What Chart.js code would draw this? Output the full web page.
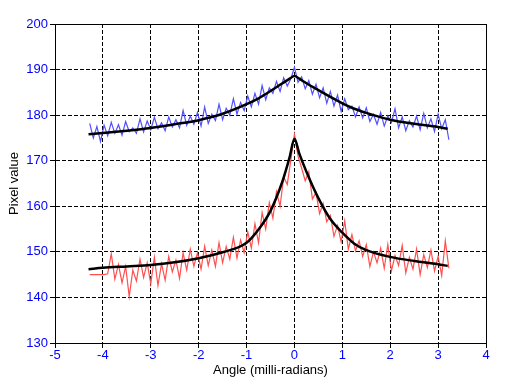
<!DOCTYPE html>
<html>
<head>
<meta charset="utf-8">
<script src="https://cdn.jsdelivr.net/npm/chart.js@4/dist/chart.umd.min.js"></script>
<style>
html,body{margin:0;padding:0;background:#fff;}
#wrap{width:510px;height:382px;position:relative;}
</style>
</head>
<body>
<div id="wrap"><canvas id="c" width="510" height="382"></canvas></div>
<script>
// ---- data ----
const xTicks = [-5,-4,-3,-2,-1,0,1,2,3,4];
const yTicks = [130,140,150,160,170,180,190,200];

const angle = [-4.275,-4.2,-4.125,-4.05,-3.975,-3.9,-3.825,-3.75,-3.675,-3.6,-3.525,-3.45,-3.375,-3.3,-3.225,-3.15,-3.075,-3.0,-2.925,-2.85,-2.775,-2.7,-2.625,-2.55,-2.475,-2.4,-2.325,-2.25,-2.175,-2.1,-2.025,-1.95,-1.875,-1.8,-1.725,-1.65,-1.575,-1.5,-1.425,-1.35,-1.275,-1.2,-1.125,-1.05,-0.975,-0.9,-0.825,-0.75,-0.675,-0.6,-0.525,-0.45,-0.375,-0.3,-0.225,-0.15,-0.075,0,0.075,0.15,0.225,0.3,0.375,0.45,0.525,0.6,0.675,0.75,0.825,0.9,0.975,1.05,1.125,1.2,1.275,1.35,1.425,1.5,1.575,1.65,1.725,1.8,1.875,1.95,2.025,2.1,2.175,2.25,2.325,2.4,2.475,2.55,2.625,2.7,2.775,2.85,2.925,3.0,3.075,3.15,3.225];

const bluePixels = [178.2,175.0,177.5,174.2,177.8,175.5,178.4,176.0,177.9,175.6,178.6,176.4,177.2,176.0,179.2,176.3,178.7,176.8,179.5,177.0,178.3,176.6,179.6,177.4,179.0,177.2,181.0,177.8,179.8,178.0,180.6,177.6,181.8,178.2,180.2,178.8,182.4,179.0,181.5,180.0,183.6,180.2,182.8,181.0,184.2,181.8,184.8,182.4,186.5,183.4,186.0,184.8,187.4,185.2,188.2,186.4,188.0,190.5,187.2,188.4,185.8,187.6,184.6,186.8,183.8,186.0,182.6,185.2,182.0,184.4,180.8,183.6,181.2,182.0,179.6,181.8,179.4,181.6,178.6,180.2,178.0,180.6,177.6,179.8,178.4,181.4,177.2,179.6,176.6,178.8,177.4,179.8,176.8,180.4,177.2,179.2,176.4,180.2,177.0,179.0,174.6];

const redPixels = [145.0,145.0,145.0,145.0,145.0,145.2,149.6,144.0,147.2,143.2,146.8,140.2,146.0,143.6,148.4,144.4,147.6,143.0,148.8,142.6,147.4,143.8,149.0,145.6,148.2,144.2,149.8,146.0,150.6,146.8,149.8,146.2,151.2,147.0,150.4,146.8,152.0,147.6,151.2,148.4,153.2,148.6,152.6,149.8,154.4,150.8,156.2,152.0,158.6,155.0,160.8,157.4,163.2,160.0,166.4,164.8,170.2,175.8,171.0,168.4,165.6,167.6,161.6,163.0,158.4,160.6,156.6,158.0,153.4,155.8,152.2,156.8,150.6,153.8,150.2,152.4,149.0,151.6,146.8,150.0,147.6,150.8,146.4,151.6,145.8,149.2,147.0,151.4,145.4,148.8,146.2,150.6,145.0,149.4,146.6,150.4,145.8,149.0,144.8,152.4,146.4];

const fitAngle = [-4.3,-4,-3.5,-3,-2.5,-2,-1.5,-1,-0.75,-0.5,-0.25,-0.1,0,0.1,0.25,0.5,0.75,1,1.25,1.5,2,2.5,3,3.2];
const blueFit = [175.8,176.1,176.6,177.2,178.0,178.9,180.3,182.4,183.7,185.3,187.0,188.0,188.6,188.0,187.0,185.5,184.0,182.6,181.4,180.5,179.0,178.1,177.4,177.0];
const redFit = [146.2,146.5,146.8,147.1,147.7,148.6,149.9,152.0,154.9,159.0,165.5,170.8,174.8,171.6,167.6,161.8,157.2,154.2,151.8,150.4,148.9,148.0,147.3,146.9];

const pts = (xs, ys) => xs.map((x, i) => ({x: x, y: ys[i]}));

const frame = {
  id: 'frame',
  afterDatasetsDraw(chart) {
    const a = chart.chartArea, ctx = chart.ctx;
    ctx.save();
    ctx.strokeStyle = '#000';
    ctx.lineWidth = 1;
    ctx.strokeRect(Math.round(a.left) + 0.5, Math.round(a.top) + 0.5, Math.round(a.right - a.left), Math.round(a.bottom - a.top));
    ctx.restore();
  }
};

const font = {family: '"Liberation Sans", Arial, sans-serif', size: 13};

new Chart(document.getElementById('c'), {
  type: 'line',
  data: {
    datasets: [
      {data: pts(fitAngle, blueFit), borderColor: '#000', borderWidth: 2.5, pointRadius: 0, cubicInterpolationMode: 'monotone'},
      {data: pts(fitAngle, redFit), borderColor: '#000', borderWidth: 2.5, pointRadius: 0, cubicInterpolationMode: 'monotone'},
      {data: pts(angle, bluePixels), borderColor: 'rgb(80,80,255)', borderWidth: 1.2, pointRadius: 0, tension: 0},
      {data: pts(angle, redPixels), borderColor: 'rgb(255,80,80)', borderWidth: 1.2, pointRadius: 0, tension: 0}
    ]
  },
  options: {
    responsive: false,
    animation: false,
    events: [],
    layout: {padding: {left: 0, top: 24, right: 24, bottom: 0}},
    plugins: {legend: {display: false}, tooltip: {enabled: false}},
    scales: {
      x: {
        type: 'linear',
        min: xTicks[0], max: xTicks[xTicks.length - 1],
        afterBuildTicks: s => { s.ticks = xTicks.map(v => ({value: v})); },
        afterFit: s => { s.height = 39; },
        grid: {color: '#000', lineWidth: 1, tickLength: 5, tickColor: '#000', tickBorderDash: []},
        border: {display: true, color: '#000', width: 1, dash: [4, 2]},
        ticks: {color: '#0000ff', font: font, padding: 0, maxRotation: 0},
        title: {display: true, text: 'Angle (milli-radians)', color: '#000', font: font, padding: {top: 0, bottom: 4}}
      },
      y: {
        type: 'linear',
        min: yTicks[0], max: yTicks[yTicks.length - 1],
        afterBuildTicks: s => { s.ticks = yTicks.map(v => ({value: v})); },
        afterFit: s => { s.width = 55; },
        grid: {color: '#000', lineWidth: 1, tickLength: 5, tickColor: '#000', tickBorderDash: []},
        border: {display: true, color: '#000', width: 1, dash: [4, 2]},
        ticks: {color: '#0000ff', font: font, padding: 2},
        title: {display: true, text: 'Pixel value', color: '#000', font: font, padding: {top: 7, bottom: 2}}
      }
    }
  },
  plugins: [frame]
});
</script>
</body>
</html>
